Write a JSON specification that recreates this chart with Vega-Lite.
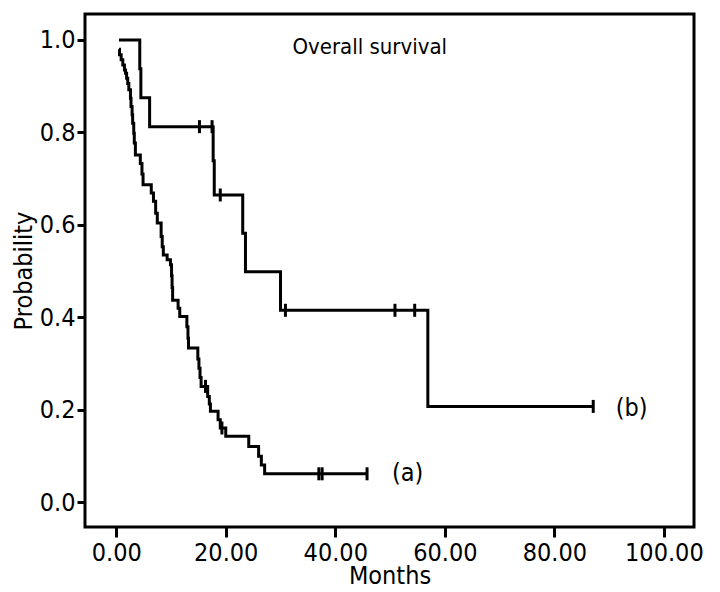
{
  "$schema": "https://vega.github.io/schema/vega-lite/v6.json",
  "width": 609,
  "height": 513,
  "autosize": "none",
  "padding": {"left": 85, "top": 14, "right": 26, "bottom": 65},
  "background": "white",
  "config": {
    "view": {"stroke": "black", "strokeWidth": 3},
    "font": "DejaVu Sans Condensed",
    "axis": {
      "labelFont": "DejaVu Sans Condensed",
      "titleFont": "DejaVu Sans Condensed",
      "labelFontSize": 25,
      "titleFontSize": 25,
      "titleFontWeight": "normal",
      "labelColor": "black",
      "titleColor": "black",
      "tickColor": "black",
      "domain": false,
      "grid": false
    }
  },
  "datasets": {
    "km": [
      {"group": "a", "t": 0.5, "p": 0.98},
      {"group": "a", "t": 0.6, "p": 0.968},
      {"group": "a", "t": 0.9, "p": 0.957},
      {"group": "a", "t": 1.2, "p": 0.946},
      {"group": "a", "t": 1.5, "p": 0.935},
      {"group": "a", "t": 1.7, "p": 0.928},
      {"group": "a", "t": 1.9, "p": 0.917},
      {"group": "a", "t": 2.1, "p": 0.906},
      {"group": "a", "t": 2.3, "p": 0.892},
      {"group": "a", "t": 2.6, "p": 0.874},
      {"group": "a", "t": 2.7, "p": 0.856},
      {"group": "a", "t": 2.9, "p": 0.838},
      {"group": "a", "t": 3.0, "p": 0.82},
      {"group": "a", "t": 3.2, "p": 0.798},
      {"group": "a", "t": 3.3, "p": 0.777},
      {"group": "a", "t": 3.5, "p": 0.751},
      {"group": "a", "t": 4.4, "p": 0.733},
      {"group": "a", "t": 4.7, "p": 0.71},
      {"group": "a", "t": 4.9, "p": 0.687},
      {"group": "a", "t": 6.4, "p": 0.669},
      {"group": "a", "t": 6.8, "p": 0.651},
      {"group": "a", "t": 7.2, "p": 0.625},
      {"group": "a", "t": 7.5, "p": 0.604},
      {"group": "a", "t": 8.2, "p": 0.575},
      {"group": "a", "t": 8.4, "p": 0.553},
      {"group": "a", "t": 8.6, "p": 0.535},
      {"group": "a", "t": 9.3, "p": 0.525},
      {"group": "a", "t": 9.9, "p": 0.514},
      {"group": "a", "t": 10.1, "p": 0.49},
      {"group": "a", "t": 10.2, "p": 0.465},
      {"group": "a", "t": 10.3, "p": 0.437},
      {"group": "a", "t": 11.3, "p": 0.42},
      {"group": "a", "t": 11.6, "p": 0.402},
      {"group": "a", "t": 12.9, "p": 0.38},
      {"group": "a", "t": 13.1, "p": 0.355},
      {"group": "a", "t": 13.2, "p": 0.334},
      {"group": "a", "t": 14.9, "p": 0.31},
      {"group": "a", "t": 15.1, "p": 0.29},
      {"group": "a", "t": 15.3, "p": 0.27},
      {"group": "a", "t": 15.5, "p": 0.251},
      {"group": "a", "t": 16.7, "p": 0.229},
      {"group": "a", "t": 17.0, "p": 0.213},
      {"group": "a", "t": 17.2, "p": 0.197},
      {"group": "a", "t": 18.6, "p": 0.179},
      {"group": "a", "t": 19.0, "p": 0.161},
      {"group": "a", "t": 20.0, "p": 0.143},
      {"group": "a", "t": 24.2, "p": 0.121},
      {"group": "a", "t": 26.0, "p": 0.1},
      {"group": "a", "t": 26.5, "p": 0.081},
      {"group": "a", "t": 27.1, "p": 0.062},
      {"group": "a", "t": 45.8, "p": 0.062},
      {"group": "b", "t": 0.5, "p": 1.0},
      {"group": "b", "t": 4.3, "p": 0.9375},
      {"group": "b", "t": 4.5, "p": 0.875},
      {"group": "b", "t": 6.1, "p": 0.8125},
      {"group": "b", "t": 17.7, "p": 0.7386},
      {"group": "b", "t": 17.9, "p": 0.6648},
      {"group": "b", "t": 23.1, "p": 0.582},
      {"group": "b", "t": 23.6, "p": 0.4986},
      {"group": "b", "t": 30.0, "p": 0.4155},
      {"group": "b", "t": 56.9, "p": 0.2077},
      {"group": "b", "t": 87.1, "p": 0.2077}
    ],
    "censored": [
      {"group": "a", "t": 16.3, "p": 0.251},
      {"group": "a", "t": 19.3, "p": 0.161},
      {"group": "a", "t": 37.0, "p": 0.062},
      {"group": "a", "t": 37.6, "p": 0.062},
      {"group": "a", "t": 45.8, "p": 0.062},
      {"group": "b", "t": 15.2, "p": 0.8125},
      {"group": "b", "t": 17.5, "p": 0.8125},
      {"group": "b", "t": 19.0, "p": 0.6648},
      {"group": "b", "t": 30.9, "p": 0.4155},
      {"group": "b", "t": 50.9, "p": 0.4155},
      {"group": "b", "t": 54.5, "p": 0.4155},
      {"group": "b", "t": 87.1, "p": 0.2077}
    ],
    "labels": [
      {"label": "Overall survival"}
    ]
  },
  "layer": [
    {
      "data": {"name": "km"},
      "mark": {"type": "line", "interpolate": "step-after", "color": "black", "strokeWidth": 3},
      "encoding": {
        "x": {
          "field": "t", "type": "quantitative",
          "scale": {"domain": [-5.7, 105.5], "nice": false, "zero": false},
          "axis": {"title": "Months", "values": [0, 20, 40, 60, 80, 100], "format": ".2f",
                   "tickSize": 10, "tickWidth": 3, "labelPadding": 3, "titlePadding": -2}
        },
        "y": {
          "field": "p", "type": "quantitative",
          "scale": {"domain": [-0.053, 1.056], "nice": false, "zero": false},
          "axis": {"title": "Probability", "values": [0, 0.2, 0.4, 0.6, 0.8, 1.0], "format": ".1f",
                   "tickSize": 8, "tickWidth": 3, "labelPadding": 2, "titlePadding": 3}
        },
        "detail": {"field": "group"}
      }
    },
    {
      "data": {"name": "censored"},
      "mark": {"type": "tick", "orient": "vertical", "color": "black", "opacity": 1, "size": 13, "thickness": 3},
      "encoding": {
        "x": {"field": "t", "type": "quantitative"},
        "y": {"field": "p", "type": "quantitative"}
      }
    },
    {
      "data": {"name": "labels"},
      "mark": {"type": "text", "text": "Overall survival", "fontSize": 22, "color": "black", "font": "DejaVu Sans Condensed", "align": "center", "baseline": "middle"},
      "encoding": {"x": {"datum": 46.3}, "y": {"datum": 0.985}}
    },
    {
      "data": {"name": "labels"},
      "mark": {"type": "text", "text": "(a)", "fontSize": 25, "color": "black", "font": "DejaVu Sans Condensed", "align": "center", "baseline": "middle"},
      "encoding": {"x": {"datum": 53.2}, "y": {"datum": 0.064}}
    },
    {
      "data": {"name": "labels"},
      "mark": {"type": "text", "text": "(b)", "fontSize": 25, "color": "black", "font": "DejaVu Sans Condensed", "align": "center", "baseline": "middle"},
      "encoding": {"x": {"datum": 94.1}, "y": {"datum": 0.205}}
    }
  ]
}
